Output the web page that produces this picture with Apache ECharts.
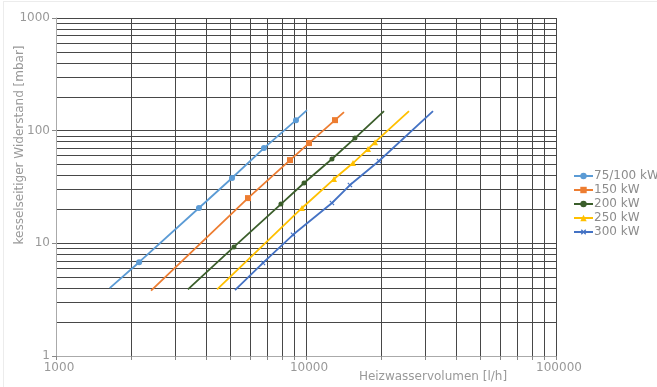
<!DOCTYPE html>
<html><head><meta charset="utf-8">
<script src="https://cdn.jsdelivr.net/npm/echarts@6/dist/echarts.min.js"></script>
<style>
html,body{margin:0;padding:0;background:#fff}
#c{width:657px;height:387px;position:relative}
#frame{position:absolute;left:3px;top:1px;width:660px;height:390px;border-left:1px solid #ececec;border-top:1px solid #ececec;pointer-events:none}
</style>
</head><body><div id="c"></div><div id="frame"></div>
<script>
// Series names
const seriesNames = ['75/100 kW', '150 kW', '200 kW', '250 kW', '300 kW'];
// Heizwasservolumen [l/h] (first and last entries are curve ends without a marker)
const flow75  = [1640, 2150, 3730, 5060, 6790, 9120, 10090];
const dp75    = [4.0, 6.8, 20.6, 38, 70, 124, 152];
const flow150 = [2400, 5860, 8630, 10280, 13060, 14190];
const dp150   = [3.8, 25.2, 54.8, 77.6, 124, 146];
const flow200 = [3370, 5150, 7940, 9820, 12700, 15700, 20510];
const dp200   = [3.9, 9.3, 22.3, 34.3, 56, 86, 149];
const flow250 = [4410, 9640, 12940, 15420, 17700, 18880, 25820];
const dp250   = [3.9, 20.6, 37.2, 51.6, 68.7, 79, 149];
const flow300 = [5200, 6730, 8870, 12700, 14990, 19590, 32210];
const dp300   = [3.85, 6.7, 11.9, 22.8, 32.9, 53.8, 149];
// Axis ticks
const xTicks = [1000, 10000, 100000];
const yTicks = [1, 10, 100, 1000];

const flows = [flow75, flow150, flow200, flow250, flow300];
const dps = [dp75, dp150, dp200, dp250, dp300];
const colors = ['#5B9BD5', '#ED7D31', '#3B5E2B', '#FFC000', '#4472C4'];
const symbols = ['circle', 'rect', 'circle', 'triangle', 'path://M4,0H6V4H10V6H6V10H4V6H0V4H4Z'];
const symbolSizes = [6, 6, 5, 6, 6];
const symbolRotates = [0, 0, 0, 0, 45];

const font = 'DejaVu Sans';
const grey = '#999999';
const gridCol = '#474747';

const series = seriesNames.map((name, i) => ({
  name: name,
  type: 'line',
  color: colors[i],
  symbol: symbols[i],
  symbolSize: symbolSizes[i],
  symbolRotate: symbolRotates[i],
  showAllSymbol: true,
  z: 10,
  lineStyle: { width: 1.8, color: colors[i], type: 'solid' },
  itemStyle: { color: colors[i] },
  emphasis: { disabled: true },
  data: flows[i].map((f, j) => {
    const isEnd = (j === 0 || j === flows[i].length - 1);
    return isEnd ? { value: [f, dps[i][j]], symbol: 'none' } : [f, dps[i][j]];
  })
}));

const chart = echarts.init(document.getElementById('c'), null, { renderer: 'canvas' });
chart.setOption({
  animation: false,
  backgroundColor: '#fff',
  textStyle: { fontFamily: font },
  grid: { left: 56, right: 101, top: 18, bottom: 31, containLabel: false, outerBoundsMode: 'none' },
  legend: {
    orient: 'vertical',
    left: 568, top: 165,
    itemWidth: 19, itemHeight: 8, itemGap: 2,
    data: seriesNames,
    textStyle: { fontFamily: font, fontSize: 12, color: '#8c8c8c', lineHeight: 12, padding: [0, 0, 0, -4] }
  },
  xAxis: {
    type: 'log', logBase: 10, min: xTicks[0], max: xTicks[xTicks.length - 1],
    name: 'Heizwasservolumen [l/h]', nameLocation: 'middle', nameGap: 15, nameMoveOverlap: false,
    nameTextStyle: { fontFamily: font, fontSize: 12, color: grey, padding: [0, 0, 0, 254] },
    axisLine: { show: true, lineStyle: { color: '#aaaaaa', width: 1 } },
    axisTick: { show: true, length: 4, lineStyle: { color: '#888' } },
    minorTick: { show: true, splitNumber: 9, length: 4, lineStyle: { color: '#888' } },
    axisLabel: { fontFamily: font, fontSize: 12, color: grey, margin: 6, padding: [0, 0, 0, 6],
      formatter: v => String(Math.round(v)) },
    splitLine: { show: true, lineStyle: { color: gridCol, width: 1 } },
    minorSplitLine: { show: true, lineStyle: { color: gridCol, width: 1 } }
  },
  yAxis: {
    type: 'log', logBase: 10, min: yTicks[0], max: yTicks[yTicks.length - 1],
    name: 'kesselseitiger Widerstand [mbar]', nameLocation: 'middle', nameGap: 30, nameMoveOverlap: false,
    nameTextStyle: { fontFamily: font, fontSize: 12, color: grey, padding: [0, 0, 0, 84] },
    axisLine: { show: true, lineStyle: { color: '#aaaaaa', width: 1 } },
    axisTick: { show: true, length: 4, lineStyle: { color: '#888' } },
    minorTick: { show: false, splitNumber: 9 },
    axisLabel: { fontFamily: font, fontSize: 12, color: grey, margin: 6, padding: [0, 0, 5, 0],
      formatter: v => String(Math.round(v)) },
    splitLine: { show: true, lineStyle: { color: gridCol, width: 1 } },
    minorSplitLine: { show: true, lineStyle: { color: gridCol, width: 1 } }
  },
  series: series
});
</script></body></html>
